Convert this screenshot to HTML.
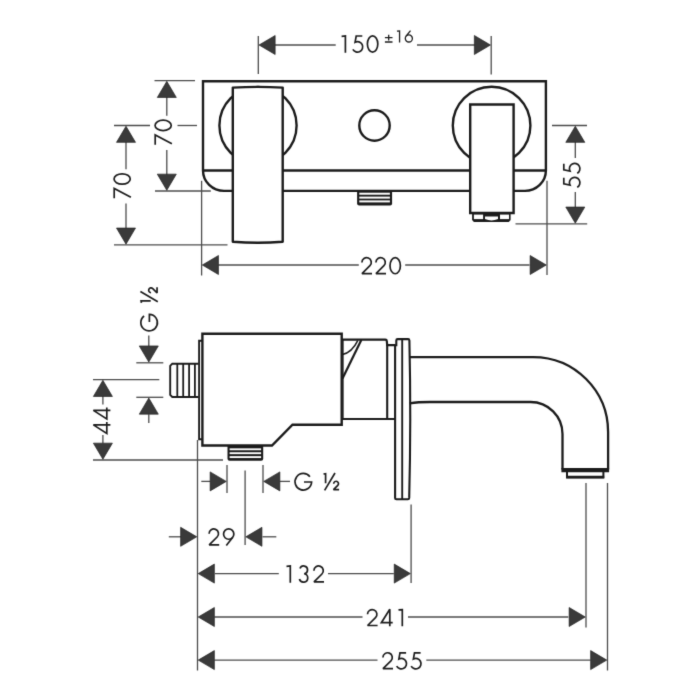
<!DOCTYPE html>
<html><head><meta charset="utf-8"><title>drawing</title>
<style>
html,body{margin:0;padding:0;background:#fff;}
svg{display:block;}
text{font-family:"Liberation Sans",sans-serif;fill:#1e1e1e;}
.g{fill:none;stroke:#1e1e1e;stroke-linejoin:miter;stroke-miterlimit:2.5;stroke-linecap:butt;}
.g *{vector-effect:non-scaling-stroke;}
</style></head><body>
<svg width="700" height="700" viewBox="0 0 700 700">
<rect width="700" height="700" fill="#fff"/>
<defs><filter id="soft" x="0" y="0" width="700" height="700" filterUnits="userSpaceOnUse" color-interpolation-filters="sRGB"><feConvolveMatrix order="3" kernelMatrix="0.0121 0.0858 0.0121 0.0858 0.6084 0.0858 0.0121 0.0858 0.0121" divisor="1" edgeMode="none" preserveAlpha="false"/></filter></defs>
<g filter="url(#soft)">
<line x1="258.3" y1="36" x2="258.3" y2="74" stroke="#4c4c4c" stroke-width="1.3"/>
<line x1="491.2" y1="36" x2="491.2" y2="74.5" stroke="#4c4c4c" stroke-width="1.3"/>
<line x1="275" y1="45" x2="335.7" y2="45" stroke="#4c4c4c" stroke-width="1.3"/>
<line x1="417" y1="45" x2="475" y2="45" stroke="#4c4c4c" stroke-width="1.3"/>
<polygon points="259.05,45.00 275.15,35.50 275.15,54.50" fill="#3a3a3a" stroke="#242424" stroke-width="0.7"/>
<polygon points="490.45,45.00 474.35,35.50 474.35,54.50" fill="#3a3a3a" stroke="#242424" stroke-width="0.7"/>
<g transform="translate(341.1,52.7)" class="g" stroke-width="1.7"><path d="M0.5,-16.4 L4.3,-16.7 V0"/></g>
<g transform="translate(352.1,52.7)" class="g" stroke-width="1.7"><path d="M10.2,-16.7 H4.1 L3.0,-10.55 A5.25,5.25 0 1 1 0.75,-3.3"/></g>
<g transform="translate(366.6,52.7)" class="g" stroke-width="1.7"><ellipse cx="6.0" cy="-8.75" rx="5.2" ry="8.1"/></g>
<g transform="translate(384.9,42.5)" class="g" stroke-width="1.3"><path d="M0,-4.9 H7.6 M3.8,-7.8 V-2.1 M0,-0.5 H7.6"/></g>
<g transform="translate(396.6,42.5) scale(0.69)" class="g" stroke-width="1.3"><path d="M0.5,-16.4 L4.3,-16.7 V0"/></g>
<g transform="translate(404.7,42.5) scale(0.69)" class="g" stroke-width="1.3"><path d="M8.4,-17.3 L1.95,-9.08"/><circle cx="6.0" cy="-5.9" r="5.15"/></g>
<line x1="154.5" y1="80.6" x2="195" y2="80.6" stroke="#4c4c4c" stroke-width="1.3"/>
<line x1="155" y1="191" x2="210.8" y2="191" stroke="#4c4c4c" stroke-width="1.3"/>
<line x1="166.8" y1="97" x2="166.8" y2="115.7" stroke="#4c4c4c" stroke-width="1.3"/>
<line x1="166.8" y1="150" x2="166.8" y2="175" stroke="#4c4c4c" stroke-width="1.3"/>
<polygon points="166.80,81.35 157.30,97.45 176.30,97.45" fill="#3a3a3a" stroke="#242424" stroke-width="0.7"/>
<polygon points="166.80,190.25 157.30,174.15 176.30,174.15" fill="#3a3a3a" stroke="#242424" stroke-width="0.7"/>
<g transform="translate(171.9,145.4) rotate(-90)" class="g" stroke-width="1.7"><path d="M0.6,-16.7 H10.4 L1.7,0"/></g>
<g transform="translate(171.9,131.4) rotate(-90)" class="g" stroke-width="1.7"><ellipse cx="6.0" cy="-8.75" rx="5.2" ry="8.1"/></g>
<line x1="114" y1="125.5" x2="150" y2="125.5" stroke="#4c4c4c" stroke-width="1.3"/>
<line x1="177.5" y1="125.5" x2="197" y2="125.5" stroke="#4c4c4c" stroke-width="1.3"/>
<line x1="114" y1="244.9" x2="227.5" y2="244.9" stroke="#4c4c4c" stroke-width="1.3"/>
<line x1="126" y1="142" x2="126" y2="169.3" stroke="#4c4c4c" stroke-width="1.3"/>
<line x1="126" y1="203.6" x2="126" y2="228.5" stroke="#4c4c4c" stroke-width="1.3"/>
<polygon points="126.00,126.25 116.50,142.35 135.50,142.35" fill="#3a3a3a" stroke="#242424" stroke-width="0.7"/>
<polygon points="126.00,244.15 116.50,228.05 135.50,228.05" fill="#3a3a3a" stroke="#242424" stroke-width="0.7"/>
<g transform="translate(130.9,198.9) rotate(-90)" class="g" stroke-width="1.7"><path d="M0.6,-16.7 H10.4 L1.7,0"/></g>
<g transform="translate(130.9,185.0) rotate(-90)" class="g" stroke-width="1.7"><ellipse cx="6.0" cy="-8.75" rx="5.2" ry="8.1"/></g>
<line x1="552" y1="125.5" x2="587" y2="125.5" stroke="#4c4c4c" stroke-width="1.3"/>
<line x1="515.5" y1="223.9" x2="587.2" y2="223.9" stroke="#4c4c4c" stroke-width="1.3"/>
<line x1="575.3" y1="142" x2="575.3" y2="158" stroke="#4c4c4c" stroke-width="1.3"/>
<line x1="575.3" y1="192" x2="575.3" y2="207.5" stroke="#4c4c4c" stroke-width="1.3"/>
<polygon points="575.30,126.25 565.80,142.35 584.80,142.35" fill="#3a3a3a" stroke="#242424" stroke-width="0.7"/>
<polygon points="575.30,223.15 565.80,207.05 584.80,207.05" fill="#3a3a3a" stroke="#242424" stroke-width="0.7"/>
<g transform="translate(580.5,188.0) rotate(-90)" class="g" stroke-width="1.7"><path d="M10.2,-16.7 H4.1 L3.0,-10.55 A5.25,5.25 0 1 1 0.75,-3.3"/></g>
<g transform="translate(580.5,174.0) rotate(-90)" class="g" stroke-width="1.7"><path d="M10.2,-16.7 H4.1 L3.0,-10.55 A5.25,5.25 0 1 1 0.75,-3.3"/></g>
<line x1="201.6" y1="180.8" x2="201.6" y2="275.5" stroke="#4c4c4c" stroke-width="1.3"/>
<line x1="547" y1="180.8" x2="547" y2="275" stroke="#4c4c4c" stroke-width="1.3"/>
<line x1="218.3" y1="265" x2="358.8" y2="265" stroke="#4c4c4c" stroke-width="1.3"/>
<line x1="405.2" y1="265" x2="529.5" y2="265" stroke="#4c4c4c" stroke-width="1.3"/>
<polygon points="202.35,265.00 218.45,255.50 218.45,274.50" fill="#3a3a3a" stroke="#242424" stroke-width="0.7"/>
<polygon points="546.25,265.00 530.15,255.50 530.15,274.50" fill="#3a3a3a" stroke="#242424" stroke-width="0.7"/>
<g transform="translate(361.0,274.4)" class="g" stroke-width="1.7"><path d="M0.9,-12.0 A4.7,4.7 0 1 1 8.92,-8.68 L1.0,-0.8 H11.0"/></g>
<g transform="translate(375.0,274.4)" class="g" stroke-width="1.7"><path d="M0.9,-12.0 A4.7,4.7 0 1 1 8.92,-8.68 L1.0,-0.8 H11.0"/></g>
<g transform="translate(389.2,274.4)" class="g" stroke-width="1.7"><ellipse cx="6.0" cy="-8.75" rx="5.2" ry="8.1"/></g>
<path d="M203,81.2 H545.9 V170.5 A21,20.4 0 0 1 524.9,190.9 H224 A21,20.4 0 0 1 203,170.5 Z" fill="none" stroke="#1b1b1b" stroke-width="2.4" />
<path d="M203,170.5 H545.9" fill="none" stroke="#1b1b1b" stroke-width="2.4" />
<circle cx="258" cy="125.5" r="38.6" fill="none" stroke="#1b1b1b" stroke-width="2.4"/>
<circle cx="491.6" cy="125.5" r="38.8" fill="none" stroke="#1b1b1b" stroke-width="2.4"/>
<circle cx="374.5" cy="125.5" r="15.2" fill="none" stroke="#1b1b1b" stroke-width="2.4"/>
<path d="M357.1,190.5 H392.1 V203.4 Q392.1,205.4 390.1,205.4 H359.1 Q357.1,205.4 357.1,203.4 Z" fill="#1b1b1b"/>
<rect x="359.3" y="192.70" width="30.6" height="2.0" fill="#fff"/>
<rect x="359.3" y="196.60" width="30.6" height="2.0" fill="#fff"/>
<rect x="359.3" y="200.40" width="30.6" height="2.0" fill="#fff"/>
<path d="M232.8,87.6 Q257.8,86.2 282.7,87.6 V241.8 Q257.8,243.6 232.8,241.8 Z" fill="#fff" stroke="#1b1b1b" stroke-width="2.4" stroke-linejoin="round"/>
<path d="M470.2,104.5 H513.6 V213 H470.2 Z" fill="#fff" stroke="#1b1b1b" stroke-width="2.4" stroke-linejoin="miter"/>
<path d="M472.1,213 H510.6 V220 L508.8,221.9 H473.9 L472.1,220 Z" fill="#1b1b1b"/>
<rect x="473.9" y="214.6" width="9.2" height="4.5" fill="#fff"/>
<rect x="500" y="214.6" width="9" height="4.5" fill="#fff"/>
<path d="M485,216.5 H498 V219 Q491.5,221.9 485,219 Z" fill="#fff"/>
<line x1="136.3" y1="362.8" x2="163.3" y2="362.8" stroke="#4c4c4c" stroke-width="1.3"/>
<line x1="136.3" y1="397.3" x2="163.3" y2="397.3" stroke="#4c4c4c" stroke-width="1.3"/>
<line x1="148.8" y1="335.5" x2="148.8" y2="346.5" stroke="#4c4c4c" stroke-width="1.3"/>
<line x1="148.8" y1="414.3" x2="148.8" y2="423" stroke="#4c4c4c" stroke-width="1.3"/>
<polygon points="148.80,362.05 139.30,345.95 158.30,345.95" fill="#3a3a3a" stroke="#242424" stroke-width="0.7"/>
<polygon points="148.80,398.05 139.30,414.15 158.30,414.15" fill="#3a3a3a" stroke="#242424" stroke-width="0.7"/>
<g transform="translate(157.8,331.0) rotate(-90)" class="g" stroke-width="1.7"><path d="M15.0,-13.7 A8.3,8.3 0 1 0 16.7,-8.4 H9.1"/></g>
<g transform="translate(157.8,303.3) rotate(-90)" class="g" stroke-width="1.7"><path d="M0.4,-16.4 L2.5,-16.7 V-7.1 M11.9,-17.4 L1.5,0 M10.6,-6.75 A2.4,2.4 0 1 1 14.7,-5.05 L10.4,-0.75 H16.0"/></g>
<line x1="93" y1="379.6" x2="159.3" y2="379.6" stroke="#4c4c4c" stroke-width="1.3"/>
<line x1="93" y1="460" x2="223" y2="460" stroke="#4c4c4c" stroke-width="1.3"/>
<line x1="102.9" y1="395.7" x2="102.9" y2="404.6" stroke="#4c4c4c" stroke-width="1.3"/>
<line x1="102.9" y1="435" x2="102.9" y2="443.6" stroke="#4c4c4c" stroke-width="1.3"/>
<polygon points="102.90,380.35 93.40,396.45 112.40,396.45" fill="#3a3a3a" stroke="#242424" stroke-width="0.7"/>
<polygon points="102.90,459.25 93.40,443.15 112.40,443.15" fill="#3a3a3a" stroke="#242424" stroke-width="0.7"/>
<g transform="translate(110.4,434.1) rotate(-90)" class="g" stroke-width="1.7"><path d="M9.2,0 V-17.0 L0.75,-3.6 H12.1"/></g>
<g transform="translate(110.4,419.6) rotate(-90)" class="g" stroke-width="1.7"><path d="M9.2,0 V-17.0 L0.75,-3.6 H12.1"/></g>
<line x1="197.5" y1="440" x2="197.5" y2="670.5" stroke="#4c4c4c" stroke-width="1.3"/>
<line x1="227" y1="465" x2="227" y2="493" stroke="#4c4c4c" stroke-width="1.3"/>
<line x1="263" y1="465" x2="263" y2="493" stroke="#4c4c4c" stroke-width="1.3"/>
<line x1="201.3" y1="481.4" x2="210" y2="481.4" stroke="#4c4c4c" stroke-width="1.3"/>
<line x1="280" y1="481.4" x2="290" y2="481.4" stroke="#4c4c4c" stroke-width="1.3"/>
<polygon points="226.25,481.40 210.15,471.90 210.15,490.90" fill="#3a3a3a" stroke="#242424" stroke-width="0.7"/>
<polygon points="263.75,481.40 279.85,471.90 279.85,490.90" fill="#3a3a3a" stroke="#242424" stroke-width="0.7"/>
<g transform="translate(294.9,490.4)" class="g" stroke-width="1.7"><path d="M15.0,-13.7 A8.3,8.3 0 1 0 16.7,-8.4 H9.1"/></g>
<g transform="translate(323.1,490.4)" class="g" stroke-width="1.7"><path d="M0.4,-16.4 L2.5,-16.7 V-7.1 M11.9,-17.4 L1.5,0 M10.6,-6.75 A2.4,2.4 0 1 1 14.7,-5.05 L10.4,-0.75 H16.0"/></g>
<line x1="245.1" y1="470.6" x2="245.1" y2="545" stroke="#4c4c4c" stroke-width="1.3"/>
<line x1="168.8" y1="536.8" x2="181" y2="536.8" stroke="#4c4c4c" stroke-width="1.3"/>
<line x1="262.5" y1="536.8" x2="276.3" y2="536.8" stroke="#4c4c4c" stroke-width="1.3"/>
<polygon points="196.75,536.80 180.65,527.30 180.65,546.30" fill="#3a3a3a" stroke="#242424" stroke-width="0.7"/>
<polygon points="245.85,536.80 261.95,527.30 261.95,546.30" fill="#3a3a3a" stroke="#242424" stroke-width="0.7"/>
<g transform="translate(208.2,545.7)" class="g" stroke-width="1.7"><path d="M0.9,-12.0 A4.7,4.7 0 1 1 8.92,-8.68 L1.0,-0.8 H11.0"/></g>
<g transform="translate(222.7,545.7)" class="g" stroke-width="1.7"><path d="M3.6,-0.2 L10.05,-8.42"/><circle cx="6.0" cy="-11.6" r="5.15"/></g>
<line x1="411.1" y1="504.6" x2="411.1" y2="583" stroke="#4c4c4c" stroke-width="1.3"/>
<line x1="215" y1="573.6" x2="278.8" y2="573.6" stroke="#4c4c4c" stroke-width="1.3"/>
<line x1="328" y1="573.6" x2="393.8" y2="573.6" stroke="#4c4c4c" stroke-width="1.3"/>
<polygon points="198.25,573.60 214.35,564.10 214.35,583.10" fill="#3a3a3a" stroke="#242424" stroke-width="0.7"/>
<polygon points="410.35,573.60 394.25,564.10 394.25,583.10" fill="#3a3a3a" stroke="#242424" stroke-width="0.7"/>
<g transform="translate(286.0,582.7)" class="g" stroke-width="1.7"><path d="M0.5,-16.4 L4.3,-16.7 V0"/></g>
<g transform="translate(298.7,582.7)" class="g" stroke-width="1.7"><path d="M1.3,-14.2 A3.9,3.9 0 1 1 5.5,-8.95 A4.25,4.25 0 1 1 0.7,-3.6"/></g>
<g transform="translate(313.0,582.7)" class="g" stroke-width="1.7"><path d="M0.9,-12.0 A4.7,4.7 0 1 1 8.92,-8.68 L1.0,-0.8 H11.0"/></g>
<line x1="586" y1="483" x2="586" y2="627.5" stroke="#4c4c4c" stroke-width="1.3"/>
<line x1="214.3" y1="617" x2="362.5" y2="617" stroke="#4c4c4c" stroke-width="1.3"/>
<line x1="408" y1="617" x2="568.3" y2="617" stroke="#4c4c4c" stroke-width="1.3"/>
<polygon points="198.25,617.00 214.35,607.50 214.35,626.50" fill="#3a3a3a" stroke="#242424" stroke-width="0.7"/>
<polygon points="585.25,617.00 569.15,607.50 569.15,626.50" fill="#3a3a3a" stroke="#242424" stroke-width="0.7"/>
<g transform="translate(366.6,626.3)" class="g" stroke-width="1.7"><path d="M0.9,-12.0 A4.7,4.7 0 1 1 8.92,-8.68 L1.0,-0.8 H11.0"/></g>
<g transform="translate(380.6,626.3)" class="g" stroke-width="1.7"><path d="M9.2,0 V-17.0 L0.75,-3.6 H12.1"/></g>
<g transform="translate(398.0,626.3)" class="g" stroke-width="1.7"><path d="M0.5,-16.4 L4.3,-16.7 V0"/></g>
<line x1="607.5" y1="483" x2="607.5" y2="670.5" stroke="#4c4c4c" stroke-width="1.3"/>
<line x1="214.3" y1="660.1" x2="377.5" y2="660.1" stroke="#4c4c4c" stroke-width="1.3"/>
<line x1="426.3" y1="660.1" x2="590.5" y2="660.1" stroke="#4c4c4c" stroke-width="1.3"/>
<polygon points="198.25,660.10 214.35,650.60 214.35,669.60" fill="#3a3a3a" stroke="#242424" stroke-width="0.7"/>
<polygon points="606.75,660.10 590.65,650.60 590.65,669.60" fill="#3a3a3a" stroke="#242424" stroke-width="0.7"/>
<g transform="translate(382.0,669.5)" class="g" stroke-width="1.7"><path d="M0.9,-12.0 A4.7,4.7 0 1 1 8.92,-8.68 L1.0,-0.8 H11.0"/></g>
<g transform="translate(395.9,669.5)" class="g" stroke-width="1.7"><path d="M10.2,-16.7 H4.1 L3.0,-10.55 A5.25,5.25 0 1 1 0.75,-3.3"/></g>
<g transform="translate(410.4,669.5)" class="g" stroke-width="1.7"><path d="M10.2,-16.7 H4.1 L3.0,-10.55 A5.25,5.25 0 1 1 0.75,-3.3"/></g>
<path d="M198.5,363.7 H172.3 L170.2,365.8 V394.9 L172.3,397 H198.5" fill="#fff" stroke="#1b1b1b" stroke-width="1.9" />
<line x1="177.3" y1="364" x2="177.3" y2="396.8" stroke="#1b1b1b" stroke-width="1.8"/>
<line x1="183.2" y1="364" x2="183.2" y2="396.8" stroke="#1b1b1b" stroke-width="1.8"/>
<line x1="189.1" y1="364" x2="189.1" y2="396.8" stroke="#1b1b1b" stroke-width="1.8"/>
<line x1="194.9" y1="364" x2="194.9" y2="396.8" stroke="#1b1b1b" stroke-width="1.8"/>
<path d="M202.4,340.8 H199.1 V439.2 H202.4" fill="none" stroke="#1b1b1b" stroke-width="1.9" />
<path d="M227.5,445.5 H263.2 V458.7 Q263.2,460.7 261.2,460.7 H229.5 Q227.5,460.7 227.5,458.7 Z" fill="#1b1b1b"/>
<rect x="229.6" y="448.35" width="31.49999999999999" height="1.9" fill="#fff"/>
<rect x="229.6" y="452.25" width="31.49999999999999" height="1.9" fill="#fff"/>
<rect x="229.6" y="456.15" width="31.49999999999999" height="1.9" fill="#fff"/>
<path d="M202.4,333.7 H341.7 V424.7 H292.5 L272,445.5 H202.4 Z" fill="#fff" stroke="#1b1b1b" stroke-width="2.4" />
<path d="M341.5,339.6 H385.4 Q386.7,339.6 386.8,341 L387.2,345.1 H395.1" fill="none" stroke="#1b1b1b" stroke-width="2.2" />
<path d="M387.2,345 V419 M341.5,419 H395" fill="none" stroke="#1b1b1b" stroke-width="2.1" />
<path d="M343.0,340 V419" fill="none" stroke="#1b1b1b" stroke-width="1.3" />
<path d="M361.3,340 L342.5,378.5" fill="none" stroke="#1b1b1b" stroke-width="2.2" />
<path d="M357.8,340.5 Q352,352.5 342.5,354.5" fill="none" stroke="#1b1b1b" stroke-width="1.7" />
<path d="M395.1,498.0 V345.2 H396.3 V340.5 Q396.3,339.1 397.7,339.1 H408.1 Q409.3,339.1 409.4,340.5 Q411.2,420 409.2,497.9 Q409.1,499.2 407.9,499.2 H396.4 Q395.1,499.2 395.1,498.0 Z" fill="#fff" stroke="#1b1b1b" stroke-width="2.1" />
<path d="M402.2,339.5 V499" fill="none" stroke="#1b1b1b" stroke-width="1.9" />
<path d="M410,357.05 H533.1 A75,75 0 0 1 608.1,432.05 V469.5" fill="none" stroke="#1b1b1b" stroke-width="2.3" />
<path d="M409.6,403.4 Q418,402 430,402 H530.5 A32,32 0 0 1 562.5,434 V469.5" fill="none" stroke="#1b1b1b" stroke-width="2.3" />
<path d="M561.4,470.1 H609.1" fill="none" stroke="#1b1b1b" stroke-width="4.2" />
<path d="M567,471 V477.3 H603.4 V471" fill="none" stroke="#1b1b1b" stroke-width="2.0" />
<path d="M566.2,477.2 H604.2" fill="none" stroke="#1b1b1b" stroke-width="2.8" />
</g>
</svg>
</body></html>
